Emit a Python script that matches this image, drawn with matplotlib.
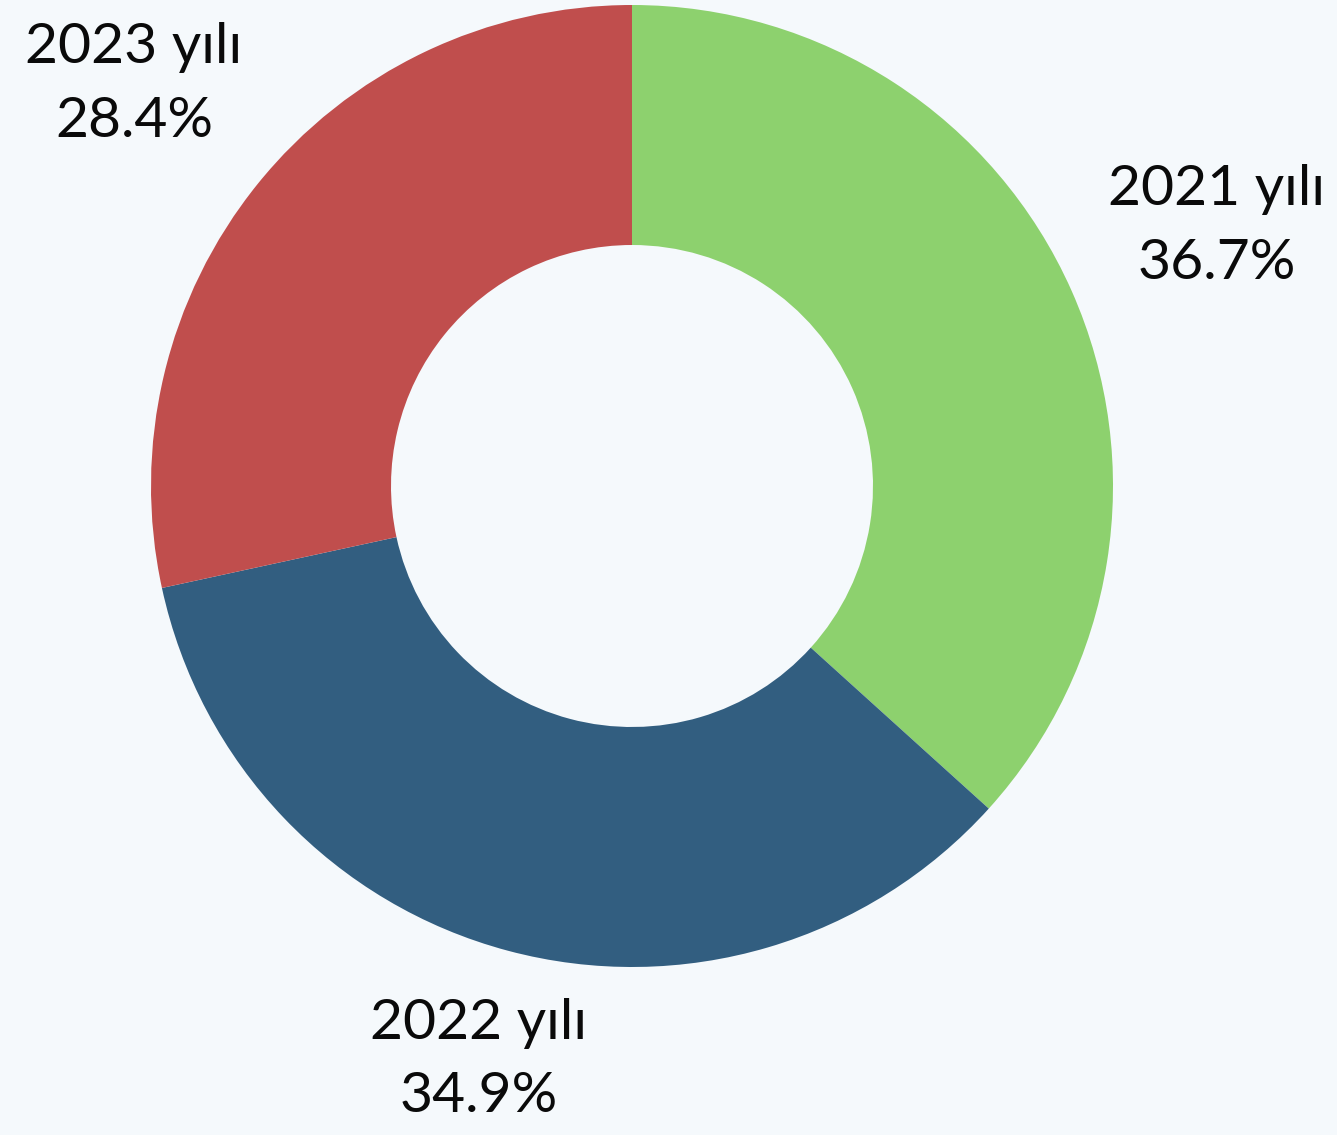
import numpy as np
import matplotlib.pyplot as plt

# veriler
yillar = ['2021 yılı', '2022 yılı', '2023 yılı']
oranlar = [36.7, 34.9, 28.4]
renkler = ['#8dd16e', '#325e80', '#c04e4d']
etiket_uzaklik = [1.33, 1.235, 1.33]

W, H = 1337, 1135
fig = plt.figure(figsize=(W / 100, H / 100), dpi=100)
fig.patch.set_facecolor('#f5f9fc')
ax = fig.add_axes([0, 0, 1, 1])
ax.set_facecolor('#f5f9fc')

merkez = (632, H - 486)
R = 481
wedges, _ = ax.pie(oranlar, colors=renkler, startangle=90, counterclock=False,
                   center=merkez, radius=R, labels=None,
                   wedgeprops=dict(width=R - 241, linewidth=0))

for w, ad, p, d in zip(wedges, yillar, oranlar, etiket_uzaklik):
    aci = np.deg2rad((w.theta1 + w.theta2) / 2)
    x = merkez[0] + d * R * np.cos(aci)
    y = merkez[1] + d * R * np.sin(aci)
    ax.text(x, y, f'{ad}\n{p:.1f}%', ha='center', va='center',
            fontsize=41, family=['Lato', 'DejaVu Sans'],
            linespacing=1.55, color='#0a0a0a')

ax.set_xlim(0, W)
ax.set_ylim(0, H)
ax.set_aspect('equal')
ax.axis('off')

fig.savefig('out.png', dpi=100, facecolor=fig.get_facecolor())
